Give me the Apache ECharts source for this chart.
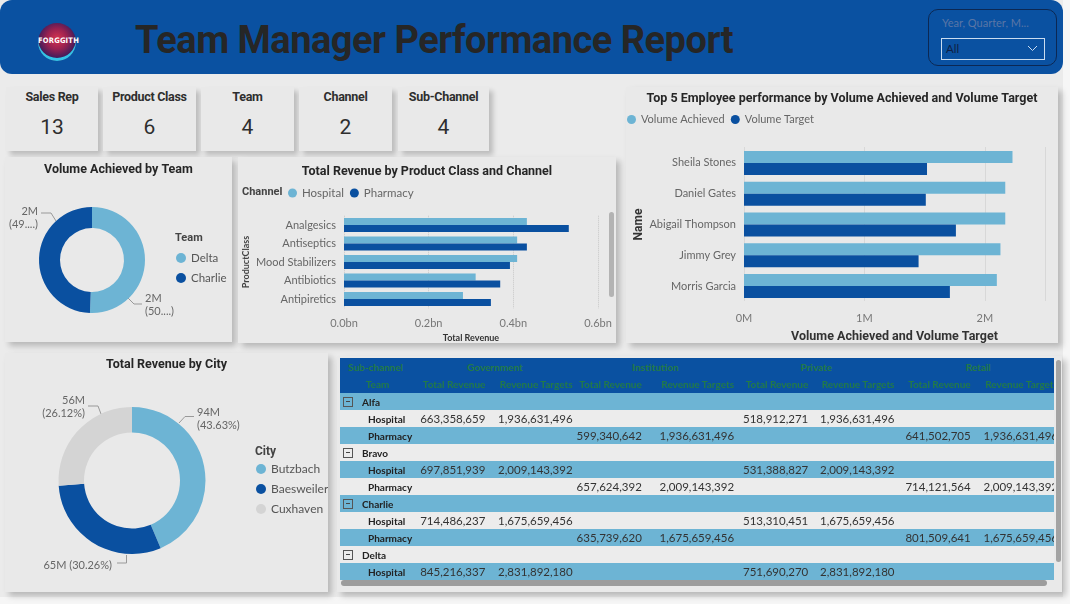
<!DOCTYPE html>
<html><head><meta charset="utf-8">
<script src="https://cdn.jsdelivr.net/npm/echarts@6.0.0/dist/echarts.min.js"></script>
<style>
html,body{margin:0;padding:0;width:1070px;height:604px;overflow:hidden;background:#f6f6f6;font-family:'Lato','Noto Sans',sans-serif;}
#page{position:absolute;left:0;top:0;width:1063px;height:597px;background:#ebebeb;}
#header{position:absolute;left:0;top:0;width:1063px;height:74px;background:#0a51a1;border-radius:12px;}
#logo{position:absolute;left:38px;top:23px;width:38px;height:38px;border-radius:50%;
  background:radial-gradient(circle at 50% 42%,#d8344f 0%,#9a2150 35%,#4a1d5a 62%,#23306e 80%,#2aa9d8 100%);
  box-shadow:inset 0 -3px 0 #33c3e6;}
#logo span{position:absolute;left:0;width:38px;top:13px;text-align:center;color:#fff;font:bold 7.5px 'DejaVu Sans Condensed','Roboto',sans-serif;letter-spacing:0.2px;}
#title{position:absolute;left:135px;top:18px;font:bold 38px 'Roboto',sans-serif;color:#262626;letter-spacing:-0.5px;white-space:nowrap;}
#slicer{position:absolute;left:928px;top:9px;width:127px;height:55px;border:1.5px solid #0c2853;border-radius:10px;}
#slicer .lbl{position:absolute;left:13px;top:6px;font:11px 'Lato',sans-serif;color:#5a76a6;white-space:nowrap;}
#slicer .dd{position:absolute;left:12px;top:28px;width:102px;height:20px;border:1px solid #c9dcf0;}
#slicer .dd span{position:absolute;left:4px;top:3px;font:11.5px 'Lato',sans-serif;color:#0f1f45;}
#slicer svg{position:absolute;right:6px;top:6px;}
.card{position:absolute;top:87px;height:64px;background:#e9e9e9;box-shadow:4px 4px 5px rgba(0,0,0,0.2);text-align:center;}
.card .t{position:absolute;left:0;right:0;top:2px;font:bold 12.5px 'Roboto',sans-serif;color:#2e2e2e;letter-spacing:-0.3px;}
.card .v{position:absolute;left:0;right:0;top:28px;font:21px 'Roboto',sans-serif;color:#2e2e2e;}
.panel{position:absolute;background:#e9e9e9;box-shadow:4px 4px 6px rgba(0,0,0,0.22);}
.chart{position:absolute;}
#tbl{position:absolute;left:340px;top:358px;width:714px;height:222px;overflow:hidden;}
#tbl table{border-collapse:collapse;table-layout:fixed;width:720px;}
#tbl td{padding:0;white-space:nowrap;overflow:hidden;height:17px;line-height:17px;}
#tbl .h td{background:#0a51a1;color:#237a48;font:bold 10px 'Lato',sans-serif;}
#tbl .v{text-align:right;padding-right:2px;font:11.5px 'Lato',sans-serif;color:#333;}
#tbl .lab{font:bold 10px 'Lato',sans-serif;color:#222;}
.box{display:inline-block;width:8px;height:8px;border:1px solid #555;position:relative;vertical-align:-1px;margin-left:3px;margin-right:9px;}
.box:after{content:'';position:absolute;left:2px;right:2px;top:3.5px;height:1px;background:#444;}
.sb{position:absolute;background:#a3a3a3;border-radius:3px;}
</style></head>
<body>
<div id="page">
  <div id="header">
    <div id="logo"><span>FORGGITH</span></div>
    <div id="title">Team Manager Performance Report</div>
    <div id="slicer"><div class="lbl">Year, Quarter, M...</div>
      <div class="dd"><span>All</span><svg width="11" height="7"><polyline points="1,1 5.5,5.5 10,1" fill="none" stroke="#c9dcf0" stroke-width="1"/></svg></div>
    </div>
  </div>
  <div id="cards"></div>

  <div class="panel" style="left:5px;top:157px;width:227px;height:185px;"></div>
  <div class="chart" id="c1" style="left:5px;top:157px;width:227px;height:186px;"></div>

  <div class="panel" style="left:238px;top:157px;width:378px;height:186px;"></div>
  <div class="chart" id="c2" style="left:238px;top:157px;width:378px;height:186px;"></div>
  <div class="sb" style="left:609px;top:212px;width:5px;height:85px;background:#b3b3b3;"></div>

  <div class="panel" style="left:626px;top:87px;width:432px;height:256px;"></div>
  <div class="chart" id="c3" style="left:626px;top:87px;width:432px;height:256px;"></div>

  <div class="panel" style="left:5px;top:353px;width:323px;height:239px;"></div>
  <div class="chart" id="c4" style="left:5px;top:353px;width:323px;height:240px;"></div>

  <div class="panel" style="left:337px;top:356px;width:725px;height:236px;"></div>
  <div id="tbl"></div>
  <div class="sb" style="left:1056px;top:360px;width:5px;height:202px;"></div>
  <div class="sb" style="left:341px;top:580px;width:706px;height:6px;background:#9c9c9c;"></div>
</div>
<script>
// ---------- DATA ----------
const kpiLabels = ['Sales Rep', 'Product Class', 'Team', 'Channel', 'Sub-Channel'];
const kpiValues = [13, 6, 4, 2, 4];

const teamNames = ['Delta', 'Charlie'];
const teamVolume = [2040000, 1990000];

const productClasses = ['Analgesics', 'Antiseptics', 'Mood Stabilizers', 'Antibiotics', 'Antipiretics'];
const channelNames = ['Hospital', 'Pharmacy'];
const hospitalRevenue = [432e6, 409e6, 409e6, 311e6, 281e6];
const pharmacyRevenue = [531e6, 432e6, 392e6, 369e6, 347e6];
const revenueTicks = [0, 0.2e9, 0.4e9, 0.6e9];

const employees = ['Sheila Stones', 'Daniel Gates', 'Abigail Thompson', 'Jimmy Grey', 'Morris Garcia'];
const volumeAchieved = [2.23e6, 2.17e6, 2.17e6, 2.13e6, 2.10e6];
const volumeTarget = [1.52e6, 1.51e6, 1.76e6, 1.45e6, 1.71e6];

const cityNames = ['Butzbach', 'Baesweiler', 'Cuxhaven'];
const cityRevenue = [93.98e6, 65.18e6, 56.26e6];

const subChannels = ['Government', 'Institution', 'Private', 'Retail'];
const tableTeams = ['Alfa', 'Bravo', 'Charlie', 'Delta'];
const rowTeam = ['Alfa', 'Alfa', 'Bravo', 'Bravo', 'Charlie', 'Charlie', 'Delta'];
const rowChannel = ['Hospital', 'Pharmacy', 'Hospital', 'Pharmacy', 'Hospital', 'Pharmacy', 'Hospital'];
const govRevenue = [663358659, null, 697851939, null, 714486237, null, 845216337];
const govTarget = [1936631496, null, 2009143392, null, 1675659456, null, 2831892180];
const instRevenue = [null, 599340642, null, 657624392, null, 635739620, null];
const instTarget = [null, 1936631496, null, 2009143392, null, 1675659456, null];
const privRevenue = [518912271, null, 531388827, null, 513310451, null, 751690270];
const privTarget = [1936631496, null, 2009143392, null, 1675659456, null, 2831892180];
const retRevenue = [null, 641502705, null, 714121564, null, 801509641, null];
const retTarget = [null, 1936631496, null, 2009143392, null, 1675659456, null];

// ---------- STYLE ----------
const LIGHT = '#6db4d4', DARK = '#0a50a0', GREY = '#d4d4d4';
const FONT = "'Lato','Noto Sans',sans-serif";
const TFONT = "'Roboto',sans-serif";

// KPI cards
const cardLeft = [6, 103, 201, 299, 398];
const cardW = [92, 93, 93, 93, 91];
document.getElementById('cards').innerHTML = kpiLabels.map((l, i) =>
  `<div class="card" style="left:${cardLeft[i]}px;width:${cardW[i]}px"><div class="t">${l}</div><div class="v">${kpiValues[i]}</div></div>`).join('');

// table
(function () {
  const colW = [75, 72, 87, 69, 92, 74, 86, 76, 87];
  const fmt = v => v == null ? '' : v.toLocaleString('en-US');
  const cols = [[govRevenue, govTarget], [instRevenue, instTarget], [privRevenue, privTarget], [retRevenue, retTarget]];
  let h = '<table><colgroup>' + colW.map(w => `<col style="width:${w}px">`).join('') + '</colgroup>';
  h += '<tr class="h"><td style="padding-left:8px">Sub-channel</td>' + subChannels.map(s => `<td colspan="2" style="text-align:center">${s}</td>`).join('') + '</tr>';
  h += '<tr class="h"><td style="text-align:center;height:18px">Team</td>' + subChannels.map(() => '<td style="text-align:right;padding-right:2px">Total Revenue</td><td style="text-align:right;padding-right:2px">Revenue Targets</td>').join('') + '</tr>';
  let k = 0;
  tableTeams.forEach(team => {
    const bg = k++ % 2 === 0 ? LIGHT : '#ececec';
    h += `<tr style="background:${bg}"><td colspan="9" class="lab"><span class="box"></span>${team}</td></tr>`;
    rowTeam.forEach((t, r) => {
      if (t !== team) return;
      const bg2 = k++ % 2 === 0 ? LIGHT : '#ececec';
      h += `<tr style="background:${bg2}"><td class="lab" style="padding-left:28px">${rowChannel[r]}</td>` +
        cols.map(c => `<td class="v">${fmt(c[0][r])}</td><td class="v">${fmt(c[1][r])}</td>`).join('') + '</tr>';
    });
  });
  h += '</table>';
  document.getElementById('tbl').innerHTML = h;
})();

function titleOpt(text, top) {
  return { text, left: 'center', top, textStyle: { fontFamily: TFONT, fontWeight: 'bold', fontSize: 12.5, color: '#262626' } };
}
function pieLayout(spots, offX, offY) {
  return function (p) {
    const s = spots[p.dataIndex];
    return {
      x: s.x - offX, y: s.y - offY, align: s.align, verticalAlign: 'middle',
      labelLinePoints: s.line.map(pt => [pt[0] - offX, pt[1] - offY])
    };
  };
}

// Chart 1: Volume Achieved by Team
(function () {
  const c = echarts.init(document.getElementById('c1'));
  const total = teamVolume.reduce((a, b) => a + b, 0);
  const spots = [
    { x: 145, y: 305, align: 'left', line: [[128, 298], [134, 304], [142, 304]] },
    { x: 38, y: 218, align: 'right', line: [[56, 221], [51, 213], [41, 213]] }
  ];
  c.setOption({
    animation: false,
    title: titleOpt('Volume Achieved by Team', 1),
    graphic: [{ type: 'text', left: 170, top: 76, style: { text: 'Team', font: "bold 11px 'Roboto'", fill: '#444' } }],
    legend: { orient: 'vertical', left: 171, top: 95, padding: 0, icon: 'circle', itemWidth: 10, itemHeight: 10, itemGap: 8,
      textStyle: { color: '#555', fontSize: 11.5, fontFamily: FONT }, data: teamNames },
    series: [{
      type: 'pie', center: [87, 103], radius: [32, 53], startAngle: 90, clockwise: true,
      data: teamNames.map((n, i) => ({ name: n, value: teamVolume[i], itemStyle: { color: i === 0 ? LIGHT : DARK } })),
      label: { show: true, color: '#666', fontSize: 11, fontFamily: FONT, lineHeight: 13, overflow: 'none', edgeDistance: 0,
        formatter: p => Math.round(p.value / 1e6) + 'M\n(' + Math.floor(p.value / total * 100) + '....)' },
      labelLine: { show: true, lineStyle: { color: '#999', width: 1 } },
      labelLayout: pieLayout(spots, 5, 157)
    }]
  });
})();

// Chart 2: Total Revenue by Product Class and Channel
(function () {
  const c = echarts.init(document.getElementById('c2'));
  c.setOption({
    animation: false,
    title: titleOpt('Total Revenue by Product Class and Channel', 3),
    graphic: [{ type: 'text', left: 4, top: 30, style: { text: 'Channel', font: "bold 11px 'Roboto'", fill: '#444' } }],
    legend: { left: 50, top: 30, padding: 0, icon: 'circle', itemWidth: 9, itemHeight: 9, itemGap: 6,
      textStyle: { color: '#666', fontSize: 11.5, fontFamily: FONT }, data: channelNames },
    grid: { left: 106, right: 18, top: 58.75, bottom: 34.75, containLabel: false, outerBoundsMode: 'none' },
    xAxis: { type: 'value', min: revenueTicks[0], max: revenueTicks[revenueTicks.length - 1], interval: revenueTicks[1] - revenueTicks[0],
      name: 'Total Revenue', nameLocation: 'middle', nameGap: 25, nameMoveOverlap: false,
      nameTextStyle: { fontFamily: FONT, fontWeight: 'bold', fontSize: 9, color: '#333' },
      axisLabel: { color: '#777', fontSize: 11, fontFamily: FONT, margin: 10, formatter: v => (v / 1e9).toFixed(1) + 'bn' },
      axisLine: { show: false }, axisTick: { show: false },
      splitLine: { lineStyle: { type: 'dotted', color: '#c8c8c8' } } },
    yAxis: { type: 'category', inverse: true, data: productClasses,
      name: 'ProductClass', nameLocation: 'middle', nameGap: 93, nameRotate: 90, nameMoveOverlap: false,
      nameTextStyle: { fontFamily: FONT, fontWeight: 'bold', fontSize: 9, color: '#444' },
      axisLabel: { color: '#666', fontSize: 11, fontFamily: FONT, margin: 8 },
      axisLine: { show: false }, axisTick: { show: false } },
    series: [
      { name: channelNames[0], type: 'bar', data: hospitalRevenue, itemStyle: { color: LIGHT }, barGap: '0%', barCategoryGap: '24%' },
      { name: channelNames[1], type: 'bar', data: pharmacyRevenue, itemStyle: { color: DARK }, barGap: '0%', barCategoryGap: '24%' }
    ]
  });
})();

// Chart 3: Top 5 Employee performance
(function () {
  const c = echarts.init(document.getElementById('c3'));
  c.setOption({
    animation: false,
    title: titleOpt('Top 5 Employee performance by Volume Achieved and Volume Target', 0),
    legend: { left: 1, top: 27, padding: 0, icon: 'circle', itemWidth: 9, itemHeight: 9, itemGap: 6,
      textStyle: { color: '#666', fontSize: 11, fontFamily: FONT }, data: ['Volume Achieved', 'Volume Target'] },
    grid: { left: 118, right: 13, top: 60.5, bottom: 41.5, containLabel: false, outerBoundsMode: 'none' },
    xAxis: { type: 'value', min: 0, max: 2.5e6, interval: 1e6,
      name: 'Volume Achieved and Volume Target', nameLocation: 'middle', nameGap: 29, nameMoveOverlap: false,
      nameTextStyle: { fontFamily: TFONT, fontWeight: 'bold', fontSize: 12.5, color: '#333' },
      axisLabel: { color: '#777', fontSize: 11, fontFamily: FONT, margin: 11, showMaxLabel: false, formatter: v => (v / 1e6) + 'M' },
      axisLine: { show: false }, axisTick: { show: false },
      splitLine: { lineStyle: { type: 'dotted', color: '#c8c8c8' } } },
    yAxis: { type: 'category', inverse: true, data: employees,
      name: 'Name', nameLocation: 'middle', nameGap: 99, nameRotate: 90, nameMoveOverlap: false,
      nameTextStyle: { fontFamily: TFONT, fontWeight: 'bold', fontSize: 12, color: '#333' },
      axisLabel: { color: '#666', fontSize: 11, fontFamily: FONT, margin: 8 },
      axisLine: { show: false }, axisTick: { show: false } },
    series: [
      { name: 'Volume Achieved', type: 'bar', data: volumeAchieved, itemStyle: { color: LIGHT }, barGap: '0%', barCategoryGap: '22%' },
      { name: 'Volume Target', type: 'bar', data: volumeTarget, itemStyle: { color: DARK }, barGap: '0%', barCategoryGap: '22%' }
    ]
  });
})();

// Chart 4: Total Revenue by City
(function () {
  const c = echarts.init(document.getElementById('c4'));
  const total = cityRevenue.reduce((a, b) => a + b, 0);
  const spots = [
    { x: 197, y: 418.5, align: 'left', sep: '\n', line: [[179, 423], [185, 416.5], [194, 416.5]] },
    { x: 112, y: 565, align: 'right', sep: ' ', line: [[126.5, 555], [126.5, 563], [117, 563]] },
    { x: 85, y: 407, align: 'right', sep: '\n', line: [[101, 414], [98, 406], [88, 406]] }
  ];
  c.setOption({
    animation: false,
    title: titleOpt('Total Revenue by City', 0),
    graphic: [{ type: 'text', left: 250, top: 93, style: { text: 'City', font: "bold 12px 'Roboto'", fill: '#444' } }],
    legend: { orient: 'vertical', left: 251, top: 110, padding: 0, icon: 'circle', itemWidth: 10, itemHeight: 10, itemGap: 8,
      textStyle: { color: '#555', fontSize: 12, fontFamily: FONT }, data: cityNames },
    series: [{
      type: 'pie', center: [127, 127.5], radius: [48, 73.5], startAngle: 90, clockwise: true,
      data: cityNames.map((n, i) => ({ name: n, value: cityRevenue[i], itemStyle: { color: [LIGHT, DARK, GREY][i] } })),
      label: { show: true, color: '#666', fontSize: 11, fontFamily: FONT, lineHeight: 13, overflow: 'none', edgeDistance: 0,
        formatter: p => Math.round(p.value / 1e6) + 'M' + spots[p.dataIndex].sep + '(' + (p.value / total * 100).toFixed(2) + '%)' },
      labelLine: { show: true, lineStyle: { color: '#999', width: 1 } },
      labelLayout: pieLayout(spots, 5, 353)
    }]
  });
})();
</script>
</body></html>
